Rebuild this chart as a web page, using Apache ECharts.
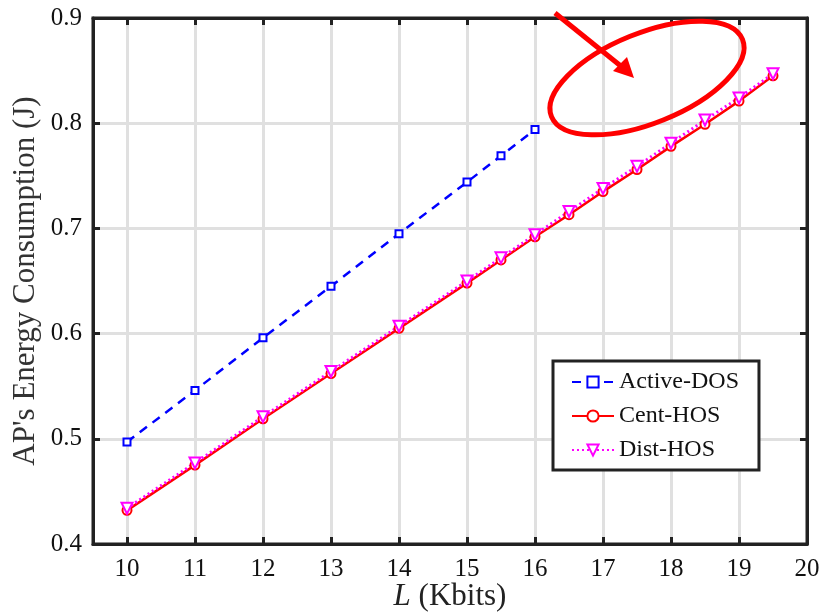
<!DOCTYPE html>
<html>
<head>
<meta charset="utf-8">
<script src="https://cdn.jsdelivr.net/npm/echarts@6/dist/echarts.min.js"></script>
<style>
  html, body { margin: 0; padding: 0; background: #fff; }
  #chart { width: 822px; height: 613px; }
</style>
</head>
<body>
<div id="chart"></div>
<script>
// data
const xTicks = [10, 11, 12, 13, 14, 15, 16, 17, 18, 19, 20];
const activeX = [10, 11, 12, 13, 14, 15, 15.5, 16];
const activeY = [0.497, 0.546, 0.596, 0.645, 0.695, 0.744, 0.769, 0.794];
const hosX = [10, 11, 12, 13, 14, 15, 15.5, 16, 16.5, 17, 17.5, 18, 18.5, 19, 19.5];
const centY = [0.432, 0.475, 0.519, 0.562, 0.605, 0.648, 0.670, 0.692, 0.713, 0.735, 0.756, 0.778, 0.799, 0.821, 0.845];
const distY = [0.434, 0.477, 0.521, 0.564, 0.607, 0.650, 0.672, 0.694, 0.716, 0.738, 0.759, 0.781, 0.803, 0.824, 0.847];

const pairs = (xs, ys) => xs.map((x, i) => [x, ys[i]]);

const font = "Liberation Serif";
const axisDark = "#222";
const gridGray = "#e0e0e0";

const chart = echarts.init(document.getElementById("chart"));

const tickStyle = { inside: true, length: 7, lineStyle: { color: axisDark, width: 3 } };

chart.setOption({
  animation: false,
  backgroundColor: "#fff",
  grid: {
    left: 93, right: 15, top: 18, bottom: 69,
    outerBoundsMode: "none", containLabel: false,
    show: true, borderColor: axisDark, borderWidth: 3
  },
  legend: {
    left: 553,
    top: 361,
    orient: "vertical",
    backgroundColor: "#fff",
    borderColor: axisDark,
    borderWidth: 3,
    borderRadius: 0,
    padding: [9, 20, 8, 18],
    itemGap: 10,
    itemWidth: 42,
    itemHeight: 14,
    textStyle: { fontFamily: font, fontSize: 24, color: "#111" },
    data: ["Active-DOS", "Cent-HOS", "Dist-HOS"]
  },
  xAxis: [
    {
      type: "value",
      min: 9.5,
      max: 20,
      name: "{i|L} (Kbits)",
      nameLocation: "middle",
      nameGap: 37,
      nameMoveOverlap: false,
      nameTextStyle: {
        fontFamily: font, fontSize: 31, color: "#222",
        rich: { i: { fontFamily: font, fontStyle: "italic", fontSize: 31, color: "#222" } }
      },
      axisLine: { show: true, lineStyle: { color: axisDark, width: 3 } },
      axisTick: Object.assign({ customValues: xTicks }, tickStyle),
      axisLabel: { customValues: xTicks, fontFamily: font, fontSize: 25, color: "#111", margin: 13 },
      splitLine: { show: true, lineStyle: { color: gridGray, width: 3 } }
    },
    {
      type: "value",
      position: "top",
      min: 9.5,
      max: 20,
      axisLine: { show: true, lineStyle: { color: axisDark, width: 3 } },
      axisTick: Object.assign({ customValues: xTicks }, tickStyle),
      axisLabel: { show: false },
      splitLine: { show: false }
    }
  ],
  yAxis: [
    {
      type: "value",
      min: 0.4,
      max: 0.9,
      interval: 0.1,
      name: "AP's Energy Consumption (J)",
      nameLocation: "middle",
      nameGap: 52,
      nameMoveOverlap: false,
      nameTextStyle: { fontFamily: font, fontSize: 31, color: "#333" },
      axisLine: { show: true, lineStyle: { color: axisDark, width: 3 } },
      axisTick: tickStyle,
      axisLabel: { fontFamily: font, fontSize: 25, color: "#111", margin: 11, formatter: v => v.toFixed(1) },
      splitLine: { show: true, lineStyle: { color: gridGray, width: 3 } }
    },
    {
      type: "value",
      position: "right",
      min: 0.4,
      max: 0.9,
      interval: 0.1,
      axisLine: { show: true, lineStyle: { color: axisDark, width: 3 } },
      axisTick: tickStyle,
      axisLabel: { show: false },
      splitLine: { show: false }
    }
  ],
  series: [
    {
      name: "Active-DOS",
      type: "line",
      data: pairs(activeX, activeY),
      symbol: "emptyRect",
      symbolSize: 7,
      color: "#0000ff",
      lineStyle: { color: "#0000ff", width: 2.5, type: [9, 7] },
      itemStyle: { color: "#0000ff", borderColor: "#0000ff", borderWidth: 3.5 }
    },
    {
      name: "Cent-HOS",
      type: "line",
      data: pairs(hosX, centY),
      symbol: "emptyCircle",
      symbolSize: 9,
      color: "#ff0000",
      lineStyle: { color: "#ff0000", width: 2.5 },
      itemStyle: { color: "#ff0000", borderColor: "#ff0000", borderWidth: 2.5 }
    },
    {
      name: "Dist-HOS",
      type: "line",
      data: pairs(hosX, distY),
      symbol: "emptyTriangle",
      symbolRotate: 180,
      symbolSize: 11,
      color: "#ff00ff",
      lineStyle: { color: "#ff00ff", width: 3, type: [2, 3] },
      itemStyle: { color: "#ff00ff", borderColor: "#ff00ff", borderWidth: 2.5 }
    }
  ],
  graphic: [
    {
      type: "ellipse",
      shape: { cx: 0, cy: 0, rx: 103, ry: 45 },
      x: 647, y: 78,
      rotation: 22 * Math.PI / 180,
      style: { fill: "none", stroke: "#ff0000", lineWidth: 5 },
      z: 100
    },
    {
      type: "line",
      shape: { x1: 555, y1: 13, x2: 622, y2: 67 },
      style: { stroke: "#ff0000", lineWidth: 5 },
      z: 100
    },
    {
      type: "polygon",
      shape: { points: [[634, 78], [613, 71], [627, 57]] },
      style: { fill: "#ff0000" },
      z: 100
    }
  ]
});
</script>
</body>
</html>
